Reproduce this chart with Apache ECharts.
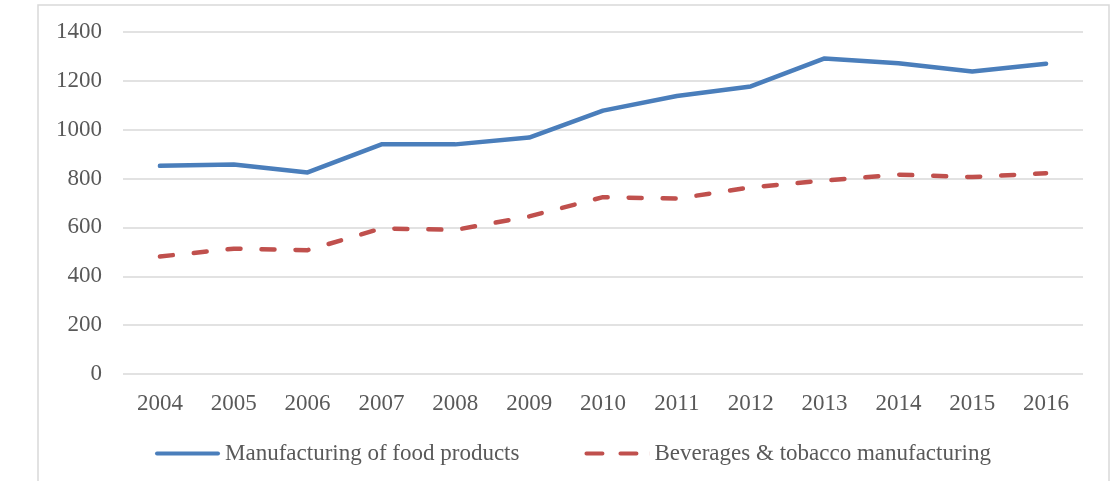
<!DOCTYPE html>
<html>
<head>
<meta charset="utf-8">
<script src="https://cdn.jsdelivr.net/npm/echarts@6/dist/echarts.min.js"></script>
<style>
  html, body { margin: 0; padding: 0; background: #fff; }
  #chart { width: 1112px; height: 481px; }
</style>
</head>
<body>
<div id="chart"></div>
<script>
// data
var years = ["2004", "2005", "2006", "2007", "2008", "2009", "2010",
             "2011", "2012", "2013", "2014", "2015", "2016"];
var foodProducts = [852, 858, 825, 940, 940, 968, 1078, 1138, 1177, 1292, 1272, 1238, 1270];
var beveragesTobacco = [481, 513, 507, 596, 590, 645, 724, 718, 764, 792, 816, 806, 822];
var yTicks = [0, 200, 400, 600, 800, 1000, 1200, 1400];

var textColor = "#595959";
var fontFamily = "Liberation Serif, serif";

// legend icons: a solid bar and two dashes
var solidIcon = "path://M2,0H63A2,2 0 0 1 63,4H2A2,2 0 0 1 2,0Z";
var dashedIcon = "path://M2,0H18A2,2 0 0 1 18,4H2A2,2 0 0 1 2,0ZM36,0H52A2,2 0 0 1 52,4H36A2,2 0 0 1 36,0ZM64.9,0H65V4H64.9Z";

var chart = echarts.init(document.getElementById("chart"), null, { renderer: "canvas" });
chart.setOption({
  animation: false,
  backgroundColor: "#fff",
  graphic: [
    {
      type: "polyline",
      shape: { points: [[38, 481], [38, 5], [1109, 5], [1109, 481]] },
      style: { stroke: "#d9d9d9", lineWidth: 1.5, fill: null },
      silent: true
    }
  ],
  grid: {
    left: 123,
    right: 29,
    top: 32,
    bottom: 107
  },
  legend: {
    left: 150,
    top: 437,
    itemWidth: 65,
    itemHeight: 4,
    itemGap: 65,
    textStyle: { color: textColor, fontFamily: fontFamily, fontSize: 23 },
    data: [
      { name: "Manufacturing of food products", icon: solidIcon },
      { name: "Beverages & tobacco manufacturing", icon: dashedIcon }
    ]
  },
  xAxis: {
    type: "category",
    data: years,
    boundaryGap: true,
    axisLine: { show: false },
    axisTick: { show: false },
    axisLabel: {
      color: textColor,
      fontFamily: fontFamily,
      fontSize: 23,
      margin: 18,
      interval: 0
    }
  },
  yAxis: {
    type: "value",
    min: yTicks[0],
    max: yTicks[yTicks.length - 1],
    interval: 200,
    axisLine: { show: false },
    axisTick: { show: false },
    splitLine: { lineStyle: { color: "#d9d9d9", width: 1.5 } },
    axisLabel: {
      color: textColor,
      fontFamily: fontFamily,
      fontSize: 23,
      margin: 21,
      formatter: function (v) { return String(v); }
    }
  },
  series: [
    {
      name: "Manufacturing of food products",
      type: "line",
      data: foodProducts,
      symbol: "none",
      color: "#4a7ebb",
      lineStyle: { color: "#4a7ebb", width: 4.5, cap: "round", join: "round" }
    },
    {
      name: "Beverages & tobacco manufacturing",
      type: "line",
      data: beveragesTobacco,
      symbol: "none",
      color: "#c0504d",
      lineStyle: {
        color: "#c0504d",
        width: 4.5,
        type: [13, 21],
        cap: "round",
        join: "round"
      }
    }
  ]
});
</script>
</body>
</html>
